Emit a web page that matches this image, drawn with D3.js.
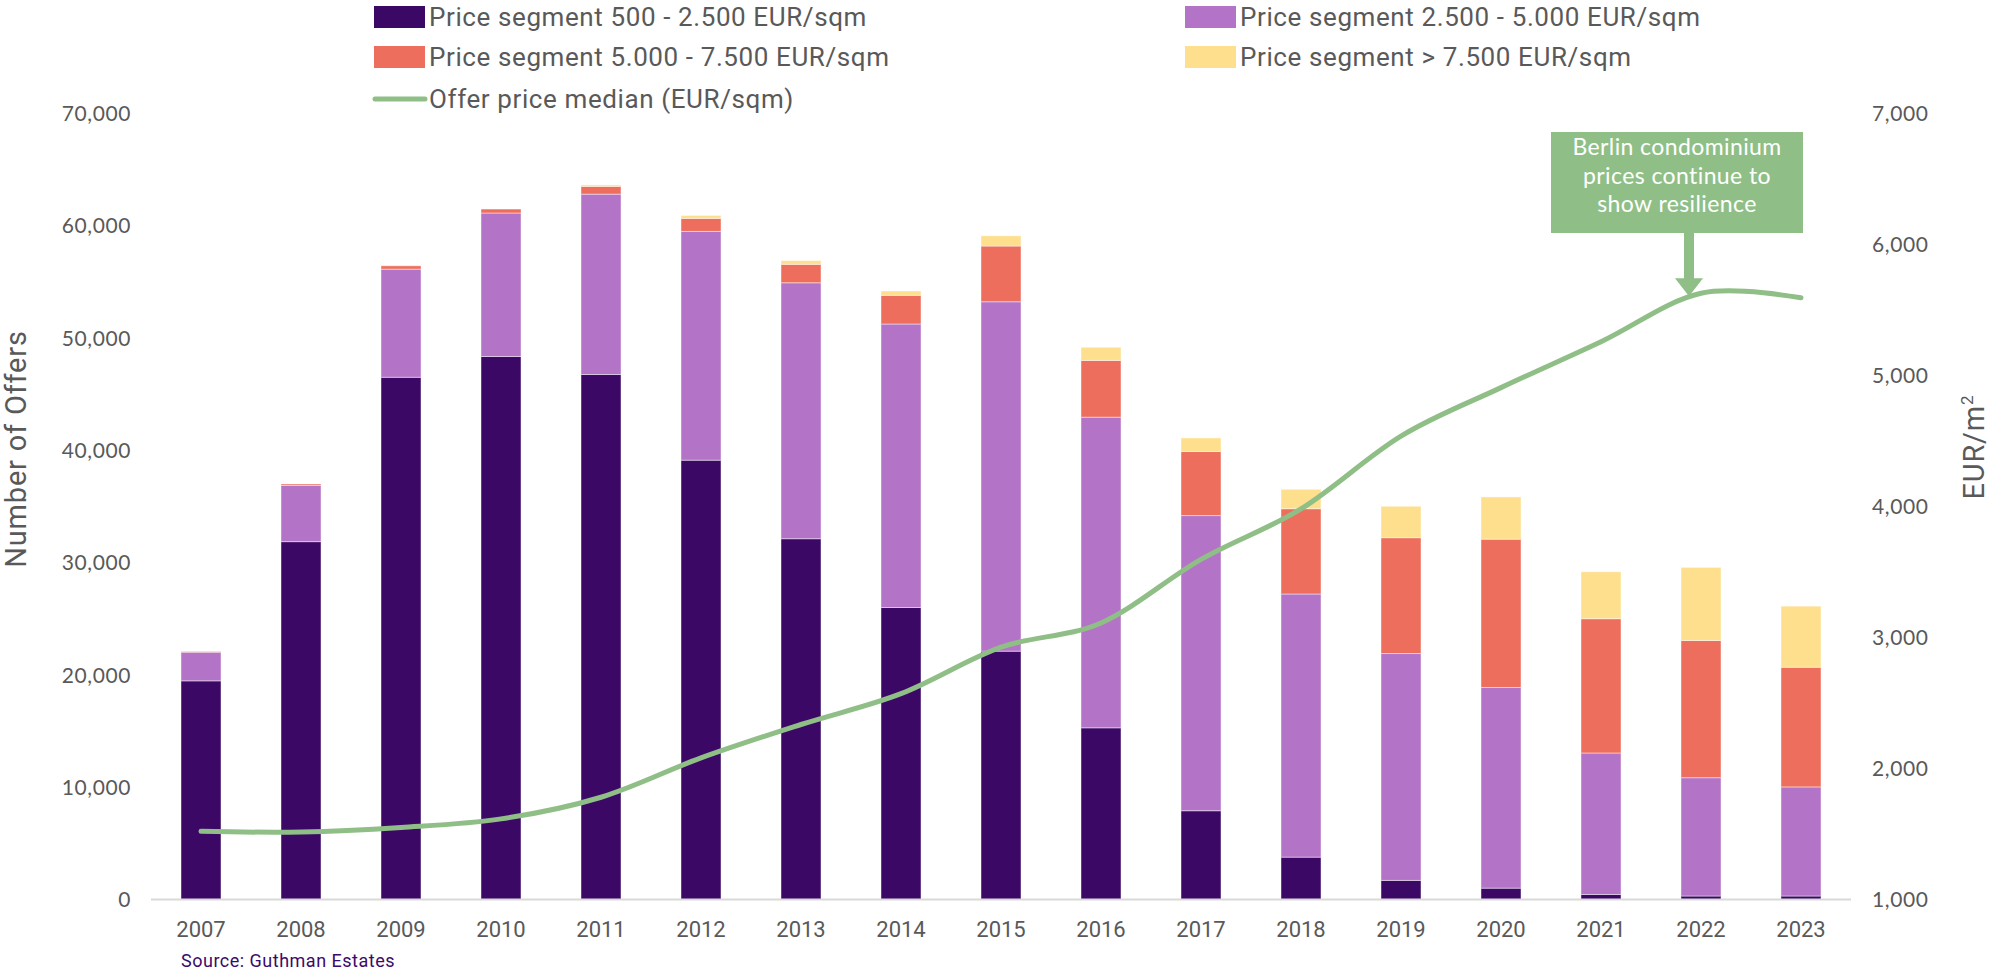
<!DOCTYPE html>
<html lang="en">
<head>
    <meta charset="UTF-8">
    <title>Berlin condominium offers</title>
    <style>
        body { margin: 0; background: #fff; }
        .tick-label { font-family: Lato, "Open Sans", sans-serif; font-size: 21px; fill: #595959; letter-spacing: 0.6px; }
        .year-label { font-family: Roboto, "Liberation Sans", sans-serif; font-size: 22px; fill: #595959; }
        .legend-text { font-family: Roboto, "Liberation Sans", sans-serif; font-size: 26px; fill: #595959; letter-spacing: 0.6px; }
        .axis-title { font-family: Roboto, "Liberation Sans", sans-serif; font-size: 29px; fill: #595959; letter-spacing: 0.8px; }
        .note-text { font-family: Lato, "Open Sans", sans-serif; font-size: 23px; fill: #fff; letter-spacing: 0.4px; }
        .source { font-family: Roboto, "Liberation Sans", sans-serif; font-size: 18px; fill: #3b0a6b; letter-spacing: 0.5px; }
    </style>
    <script src="https://d3js.org/d3.v7.min.js"></script>
</head>
<body>

    <svg id="chart"></svg>

    <script>
        const years = ["2007", "2008", "2009", "2010", "2011", "2012", "2013", "2014", "2015",
                       "2016", "2017", "2018", "2019", "2020", "2021", "2022", "2023"];

        // number of offers per price segment
        const seg500 = [19460, 31850, 46480, 48330, 46730, 39100, 32110, 25990, 22100,
                        15280, 7900, 3770, 1700, 1010, 450, 310, 310];
        const seg2500 = [2550, 5000, 9620, 12770, 16050, 20360, 22780, 25230, 31100,
                         27650, 26270, 23420, 20190, 17860, 12590, 10530, 9710];
        const seg5000 = [50, 130, 300, 350, 690, 1160, 1640, 2550, 4960,
                         5050, 5700, 7590, 10310, 13200, 11950, 12210, 10650];
        const seg7500 = [0, 0, 0, 0, 130, 260, 340, 390, 910,
                         1170, 1210, 1730, 2800, 3760, 4180, 6510, 5440];

        // offer price median, EUR/sqm
        const medianPrice = [1520, 1515, 1550, 1615, 1780, 2080, 2335, 2570, 2925,
                             3110, 3595, 3980, 4535, 4905, 5255, 5625, 5590];

        const seriesNames = ["Price segment 500 - 2.500 EUR/sqm", "Price segment 2.500 - 5.000 EUR/sqm",
                             "Price segment 5.000 - 7.500 EUR/sqm", "Price segment > 7.500 EUR/sqm"];
        const seriesColors = ["#3b0866", "#b373c6", "#ed6e5d", "#fedf8e"];
        const lineName = "Offer price median (EUR/sqm)";
        const lineColor = "#8fbf86";

        const leftTicks = [0, 10000, 20000, 30000, 40000, 50000, 60000, 70000];
        const rightTicks = [1000, 2000, 3000, 4000, 5000, 6000, 7000];

        const noteLines = ["Berlin condominium", "prices continue to", "show resilience"];

        const width = 1992;
        const height = 970;

        const svg = d3.select("#chart")
            .attr("width", width)
            .attr("height", height);

        const x = d3.scaleBand()
            .domain(years)
            .range([151, 1851])
            .paddingInner(0.6)
            .paddingOuter(0.3);

        const y = d3.scaleLinear().domain([0, 70000]).range([899.5, 113]);
        const y2 = d3.scaleLinear().domain([1000, 7000]).range([899.5, 113]);

        // stacked bars
        const rows = years.map((yr, i) => ({
            year: yr, s0: seg500[i], s1: seg2500[i], s2: seg5000[i], s3: seg7500[i]
        }));
        const stack = d3.stack().keys(["s0", "s1", "s2", "s3"])(rows);

        svg.append("g").selectAll("g")
            .data(stack)
            .enter().append("g")
            .attr("fill", (d, i) => seriesColors[i])
            .selectAll("rect")
            .data(d => d)
            .enter().append("rect")
            .attr("x", d => x(d.data.year))
            .attr("width", x.bandwidth())
            .attr("y", d => y(d[1]))
            .attr("height", d => y(d[0]) - y(d[1]))
            .attr("stroke", "#fff")
            .attr("stroke-opacity", 0.45)
            .attr("stroke-width", 1);

        // baseline
        svg.append("line")
            .attr("x1", x.range()[0]).attr("x2", x.range()[1])
            .attr("y1", y(0)).attr("y2", y(0))
            .attr("stroke", "#d9d9d9")
            .attr("stroke-width", 2);

        // left axis
        const leftAxis = d3.axisLeft(y).tickValues(leftTicks).tickSize(0).tickPadding(0)
            .tickFormat(d3.format(","));
        const gl = svg.append("g").attr("transform", "translate(131,0)").call(leftAxis);
        gl.select(".domain").remove();
        gl.selectAll("text").attr("class", "tick-label").attr("dy", "0.35em");

        // right axis
        const rightAxis = d3.axisRight(y2).tickValues(rightTicks).tickSize(0).tickPadding(0)
            .tickFormat(d3.format(","));
        const gr = svg.append("g").attr("transform", "translate(1872,0)").call(rightAxis);
        gr.select(".domain").remove();
        gr.selectAll("text").attr("class", "tick-label").attr("dy", "0.35em");

        // year labels
        const xAxis = d3.axisBottom(x).tickSize(0).tickPadding(0);
        const gx = svg.append("g").attr("transform", "translate(0,929)").call(xAxis);
        gx.select(".domain").remove();
        gx.selectAll("text").attr("class", "year-label").attr("dy", "0.35em");

        // median price line
        const line = d3.line()
            .x((d, i) => x(years[i]) + x.bandwidth() / 2)
            .y(d => y2(d))
            .curve(d3.curveCardinal.tension(0));

        svg.append("path")
            .datum(medianPrice)
            .attr("d", line)
            .attr("fill", "none")
            .attr("stroke", lineColor)
            .attr("stroke-width", 5)
            .attr("stroke-linecap", "round");

        // axis titles
        svg.append("text")
            .attr("class", "axis-title")
            .attr("transform", "translate(26,449) rotate(-90)")
            .attr("text-anchor", "middle")
            .text("Number of Offers");

        const rt = svg.append("text")
            .attr("class", "axis-title")
            .attr("transform", "translate(1984,447) rotate(-90)")
            .attr("text-anchor", "middle");
        rt.append("tspan").text("EUR/m");
        rt.append("tspan").attr("font-size", "17px").attr("dy", "-11").text("2");

        // legend
        const legendPos = [[374, 17], [1185, 17], [374, 57], [1185, 57]];
        const legend = svg.append("g");
        seriesNames.forEach((name, i) => {
            const [lx, ly] = legendPos[i];
            legend.append("rect")
                .attr("x", lx).attr("y", ly - 11)
                .attr("width", 51).attr("height", 22)
                .attr("fill", seriesColors[i]);
            legend.append("text")
                .attr("class", "legend-text")
                .attr("x", lx + 55).attr("y", ly)
                .attr("dy", "0.35em")
                .text(name);
        });
        legend.append("line")
            .attr("x1", 375).attr("x2", 425)
            .attr("y1", 99).attr("y2", 99)
            .attr("stroke", lineColor)
            .attr("stroke-width", 5)
            .attr("stroke-linecap", "round");
        legend.append("text")
            .attr("class", "legend-text")
            .attr("x", 429).attr("y", 99)
            .attr("dy", "0.35em")
            .text(lineName);

        // annotation
        const ax = x("2022") + x.bandwidth() / 2 - 12;
        const ay = y2(medianPrice[15]) + 3;
        const note = svg.append("g");
        note.append("rect")
            .attr("x", 1551).attr("y", 132)
            .attr("width", 252).attr("height", 101)
            .attr("fill", lineColor);
        note.append("rect")
            .attr("x", ax - 5).attr("y", 232)
            .attr("width", 10).attr("height", ay - 17 - 232)
            .attr("fill", lineColor);
        note.append("path")
            .attr("d", `M${ax - 14},${ay - 18} L${ax + 14},${ay - 18} L${ax},${ay} Z`)
            .attr("fill", lineColor);
        noteLines.forEach((t, i) => {
            note.append("text")
                .attr("class", "note-text")
                .attr("x", 1677)
                .attr("y", 155 + i * 28.5)
                .attr("text-anchor", "middle")
                .text(t);
        });

        // source
        svg.append("text")
            .attr("class", "source")
            .attr("x", 181).attr("y", 967)
            .text("Source: Guthman Estates");
    </script>

</body>
</html>
